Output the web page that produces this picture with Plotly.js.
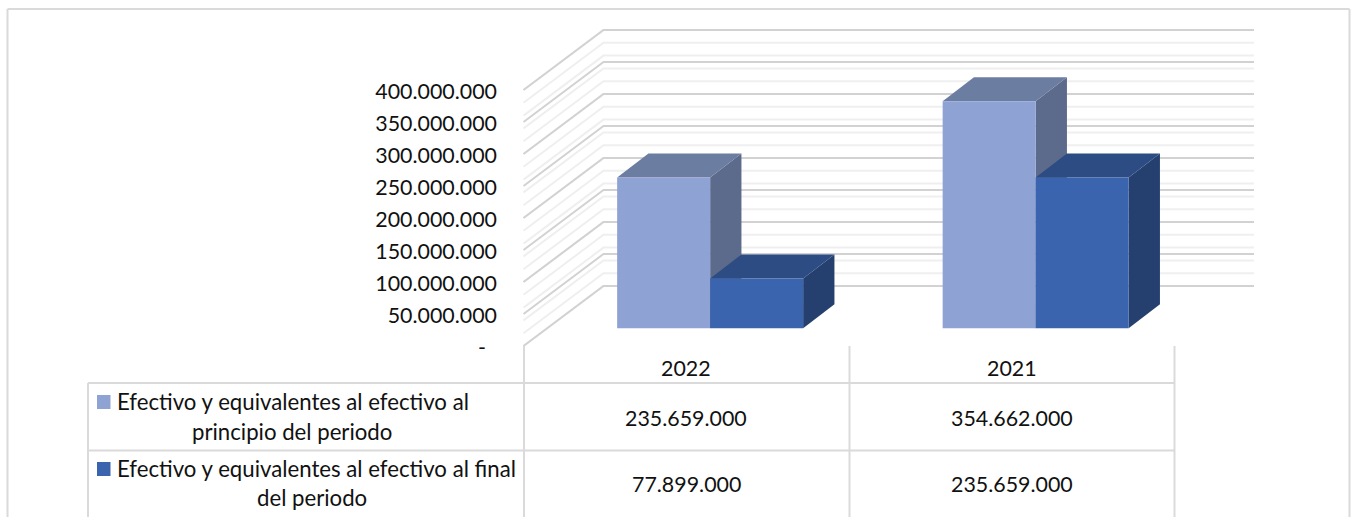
<!DOCTYPE html>
<html>
<head>
<meta charset="utf-8">
<script src="https://cdn.plot.ly/plotly-3.0.1.min.js"></script>
<style>html,body{margin:0;padding:0;background:#fff;overflow:hidden}#c{width:1351px;height:517px}</style>
</head>
<body>
<div id="c"></div>
<script>
const categories = ["2022", "2021"];
const seriesPrincipio = [235659000, 354662000];
const seriesFinal = [77899000, 235659000];
const principioLabels = ["235.659.000", "354.662.000"];
const finalLabels = ["77.899.000", "235.659.000"];
const legendLines = [
  ["Efectivo y equivalentes al efectivo al", "principio del periodo"],
  ["Efectivo y equivalentes al efectivo al final", "del periodo"]
];
const tickValues = [0, 50e6, 100e6, 150e6, 200e6, 250e6, 300e6, 350e6, 400e6];
const tickLabels = ["-\u00A0\u00A0", "50.000.000", "100.000.000", "150.000.000", "200.000.000", "250.000.000", "300.000.000", "350.000.000", "400.000.000"];
const minorGrid = [0, 20e6, 40e6, 60e6, 80e6, 100e6, 120e6, 140e6, 160e6, 180e6, 200e6, 220e6, 240e6, 260e6, 280e6, 300e6, 320e6, 340e6, 360e6, 380e6, 400e6];

// page geometry
const W = 1351, H = 517, plotLeft = 500;
const catPx = 325.5, frontX = 523.5, zeroY = 346, pxPerUnit = 256 / 400e6;
const xOf = px => (px - frontX) / catPx;            // px -> category units
const yOf = py => (zeroY - py) / pxPerUnit;         // py -> value units
const paperX = px => (px - plotLeft) / (W - plotLeft);
const paperY = py => 1 - py / H;

// 3-D projection offsets
const wallDx = 80 / catPx, wallDy = 60 / pxPerUnit, wallEnd = xOf(1254);
const barShiftX = 23.9 / catPx, barBase = 17.7 / pxPerUnit;
const barW = 93 / catPx, barDx = 31.3 / catPx, barDy = 24 / pxPerUnit;

const colors = {
  a: {front: "#8FA2D4", top: "#6C7DA2", side: "#5C6A8B"},
  b: {front: "#3A64AD", top: "#2D4C84", side: "#25406F"}
};

const shapes = [];
function path(d, fill, lineColor, width) {
  return {type: "path", layer: "below", xref: "x", yref: "y", path: d,
    fillcolor: fill || "rgba(0,0,0,0)", line: {color: lineColor || "rgba(0,0,0,0)", width: width || 0}};
}
function gridPath(v) {
  return `M 0 ${v} L ${wallDx} ${v + wallDy} L ${wallEnd} ${v + wallDy}`;
}
minorGrid.forEach(v => shapes.push(path(gridPath(v), null, "#EFEFEF", 2)));
tickValues.forEach(v => shapes.push(path(gridPath(v), null, "#D2D2D2", 2)));

function barFaces(left, value, c) {
  const r = left + barW, t = barBase + value, b = barBase;
  shapes.push(path(`M ${r} ${b} L ${r + barDx} ${b + barDy} L ${r + barDx} ${t + barDy} L ${r} ${t} Z`, c.side));
  shapes.push(path(`M ${left} ${t} L ${left + barDx} ${t + barDy} L ${r + barDx} ${t + barDy} L ${r} ${t} Z`, c.top));
}
const positions = categories.map((_, i) => i + 0.5 + barShiftX);
categories.forEach((_, i) => {
  barFaces(positions[i] - barW, seriesPrincipio[i], colors.a);
  barFaces(positions[i], seriesFinal[i], colors.b);
});

// data table and frame
const rule = "#DADADA";
function line(x0, y0, x1, y1, w) {
  shapes.push({type: "line", xref: "paper", yref: "paper", x0: paperX(x0), x1: paperX(x1), y0: paperY(y0), y1: paperY(y1), line: {color: rule, width: w || 2}});
}
line(7.5, 9, 1349.5, 9); line(7.5, 9, 7.5, 520); line(1349.5, 9, 1349.5, 520);
line(88, 383, 1174.5, 383); line(88, 450.5, 1174.5, 450.5);
line(88, 383, 88, 520);
[524, 849.5, 1174.5].forEach(x => line(x, 346, x, 520));
[[395, colors.a.front], [462, colors.b.front]].forEach(([y, c]) => {
  shapes.push({type: "rect", xref: "paper", yref: "paper", x0: paperX(97), x1: paperX(110.5), y0: paperY(y), y1: paperY(y + 14), fillcolor: c, line: {width: 0}});
});

const font = {family: "Lato, Carlito, sans-serif", size: 21.4, color: "#111"};
const legendFont = {family: "Lato, Carlito, sans-serif", size: 22.2, color: "#111"};
const annotations = [];
function text(s, px, py, xref, f) {
  annotations.push({text: s, x: xref === "x" ? px : paperX(px), xref: xref || "paper", y: paperY(py), yref: "paper",
    showarrow: false, xanchor: "center", yanchor: "middle", font: f || font});
}
categories.forEach((c, i) => {
  text(c, i + 0.5, 368, "x");
  text(principioLabels[i], i + 0.5, 418, "x");
  text(finalLabels[i], i + 0.5, 484, "x");
});
text(legendLines[0][0], 293, 401, "paper", legendFont);
text(legendLines[0][1], 292, 431, "paper", legendFont);
text(legendLines[1][0], 316.5, 468, "paper", legendFont);
text(legendLines[1][1], 312, 497, "paper", legendFont);

const traces = [
  {type: "bar", name: legendLines[0].join(" "), x: positions, y: seriesPrincipio, base: categories.map(() => barBase),
   width: barW, offset: -barW, marker: {color: colors.a.front, line: {width: 0}}, hoverinfo: "skip"},
  {type: "bar", name: legendLines[1].join(" "), x: positions, y: seriesFinal, base: categories.map(() => barBase),
   width: barW, offset: 0, marker: {color: colors.b.front, line: {width: 0}}, hoverinfo: "skip"}
];

const layout = {
  width: W, height: H, showlegend: false, barmode: "overlay",
  margin: {l: plotLeft, r: 0, t: 0, b: 0, pad: 0},
  paper_bgcolor: "#fff", plot_bgcolor: "rgba(0,0,0,0)",
  xaxis: {range: [xOf(plotLeft), xOf(W)], visible: false, fixedrange: true},
  yaxis: {range: [yOf(H), yOf(0)], tickmode: "array", tickvals: tickValues, ticktext: tickLabels,
    showgrid: false, zeroline: false, showline: false, ticks: "", ticklen: 0, tickfont: font,
    ticklabelstandoff: 2, ticklabelshift: 1, automargin: false, fixedrange: true},
  shapes, annotations
};
Plotly.newPlot("c", traces, layout, {displayModeBar: false, staticPlot: true});
</script>
</body>
</html>
